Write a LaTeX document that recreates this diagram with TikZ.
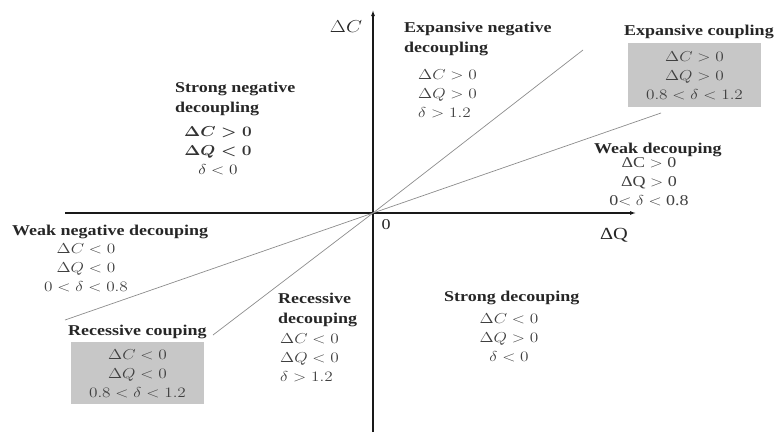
\documentclass[tikz,border=0pt]{standalone}
\usepackage{fontspec}
\usepackage{graphicx}
\setmainfont{Liberation Serif}
\usetikzlibrary{arrows.meta}
\newcommand\wide[1]{\scalebox{1.2}[1]{#1}}
\newcommand\stack[2]{\wide{\begin{tabular}{@{}#1@{}}#2\end{tabular}}}
\begin{document}
\begin{tikzpicture}[x=1pt,y=-1pt,
  title/.style={font=\fontsize{15}{20}\selectfont\bfseries, text=black!85, inner sep=0pt},
  cond/.style={font=\fontsize{15}{19}\selectfont, text=black!75, inner sep=0pt},
  boldcond/.style={font=\fontsize{15}{19}\selectfont\mathversion{bold}, text=black!80, inner sep=0pt},
  graybox/.style={fill=black!22, draw=none, minimum width=133pt, inner sep=0pt},
  axis/.style={line width=1.1pt, black!90, -{Latex[length=6pt,width=4pt]}},
  ray/.style={line width=0.7pt, black!45},
  lbl/.style={font=\fontsize{17}{20}\selectfont, text=black!85, inner sep=0pt}]
\useasboundingbox (0,0) rectangle (776,434);
% axes
\coordinate (O) at (373,213);
\coordinate (ytop) at (373,10);
\coordinate (ybot) at (373,432);
\coordinate (xl) at (65,213);
\coordinate (xr) at (636,213);
\draw[axis] (ybot) -- (ytop);
\draw[axis] (xl) -- (xr);
% rays
\coordinate (r1) at (583,50);
\coordinate (r2) at (661,113);
\coordinate (r3) at (65,320);
\coordinate (r4) at (213,335);
\draw[ray] (O) -- (r1);
\draw[ray] (O) -- (r2);
\draw[ray] (O) -- (r3);
\draw[ray] (O) -- (r4);
% axis labels
\node[lbl] (lc) at (346,27) {\wide{$\Delta C$}};
\node[lbl] (lq) at (614,235) {\wide{ΔQ}};
\node[lbl, font=\fontsize{15}{18}\selectfont] (l0) at (386,225) {\wide{0}};
% Strong negative decoupling
\node[title, anchor=west] (snt) at (175,98) {\stack{l}{Strong negative\\decoupling}};
\node[boldcond] (snc) at (218,151.5) {\stack{c}{$\Delta C>0$\\$\Delta Q<0$\\\mathversion{normal}$\delta<0$}};
% Expansive negative decoupling
\node[title, anchor=west] (ent) at (404,38) {\stack{l}{Expansive negative\\decoupling}};
\node[cond, anchor=west] (enc) at (418,95) {\stack{l}{$\Delta C>0$\\$\Delta Q>0$\\$\delta>1.2$}};
% Expansive coupling
\node[title, anchor=west] (ect) at (624,32) {\wide{Expansive coupling}};
\node[graybox, minimum height=64pt] (ecb) at (694.5,75) {};
\node[cond] (ecc) at (694.5,77) {\stack{c}{$\Delta C>0$\\$\Delta Q>0$\\$0.8<\delta<1.2$}};
% Weak decoupling
\node[title, anchor=west] (wdt) at (594,150) {\wide{Weak decouping}};
\node[cond] (wdc) at (649,183) {\stack{c}{ΔC $>$ 0\\ΔQ $>$ 0\\0$<$ $\delta$ $<$ 0.8}};
% Weak negative decoupling
\node[title, anchor=west] (wnt) at (12,232) {\wide{Weak negative decouping}};
\node[cond] (wnc) at (86,268.5) {\stack{c}{$\Delta C<0$\\$\Delta Q<0$\\$0<\delta<0.8$}};
% Recessive coupling
\node[title, anchor=west] (rct) at (68,332) {\wide{Recessive couping}};
\node[graybox, minimum height=62pt] (rcb) at (137.5,373) {};
\node[cond] (rcc) at (137.5,375) {\stack{c}{$\Delta C<0$\\$\Delta Q<0$\\$0.8<\delta<1.2$}};
% Recessive decoupling
\node[title, anchor=west] (rdt) at (278,309) {\stack{l}{Recessive\\decouping}};
\node[cond, anchor=west] (rdc) at (280,358.5) {\stack{l}{$\Delta C<0$\\$\Delta Q<0$\\$\delta>1.2$}};
% Strong decoupling
\node[title, anchor=west] (sdt) at (444,298) {\wide{Strong decouping}};
\node[cond] (sdc) at (509,338.5) {\stack{c}{$\Delta C<0$\\$\Delta Q>0$\\$\delta<0$}};
\end{tikzpicture}
\end{document}
